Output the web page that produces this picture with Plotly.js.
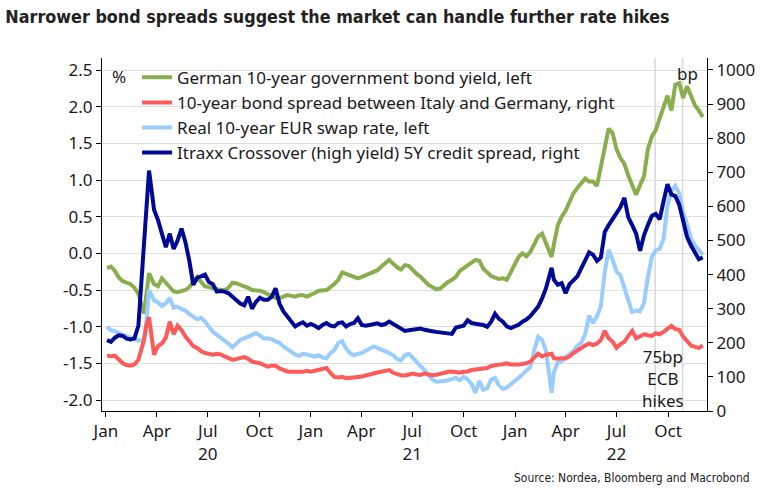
<!DOCTYPE html>
<html><head><meta charset="utf-8">
<script src="https://cdn.plot.ly/plotly-3.0.1.min.js"></script>
<style>html,body{margin:0;padding:0;background:#fff}#chart{width:764px;height:491px}</style>
</head><body><div id="chart"></div>
<script>
const dates = [
'2020-01-03','2020-01-10','2020-01-17','2020-01-24','2020-01-31','2020-02-07','2020-02-14','2020-02-21','2020-02-28','2020-03-09',
'2020-03-13','2020-03-18','2020-03-27','2020-04-03','2020-04-10','2020-04-17','2020-04-24','2020-05-01','2020-05-08','2020-05-15',
'2020-05-22','2020-05-29','2020-06-05','2020-06-12','2020-06-19','2020-06-26','2020-07-03','2020-07-10','2020-07-17','2020-07-24',
'2020-07-31','2020-08-07','2020-08-14','2020-08-21','2020-08-28','2020-09-04','2020-09-11','2020-09-18','2020-09-25','2020-10-02',
'2020-10-09','2020-10-16','2020-10-23','2020-10-30','2020-11-06','2020-11-13','2020-11-20','2020-11-27','2020-12-04','2020-12-11',
'2020-12-18','2020-12-25','2021-01-01','2021-01-08','2021-01-15','2021-01-22','2021-01-29','2021-02-05','2021-02-12','2021-02-19',
'2021-02-26','2021-03-05','2021-03-12','2021-03-19','2021-03-26','2021-04-02','2021-04-09','2021-04-16','2021-04-23','2021-04-30',
'2021-05-07','2021-05-14','2021-05-21','2021-05-28','2021-06-04','2021-06-11','2021-06-18','2021-06-25','2021-07-02','2021-07-09',
'2021-07-16','2021-07-23','2021-07-30','2021-08-06','2021-08-13','2021-08-20','2021-08-27','2021-09-03','2021-09-10','2021-09-17',
'2021-09-24','2021-10-01','2021-10-08','2021-10-15','2021-10-22','2021-10-29','2021-11-05','2021-11-12','2021-11-19','2021-11-26',
'2021-12-03','2021-12-10','2021-12-17','2021-12-24','2021-12-31','2022-01-07','2022-01-14','2022-01-21','2022-01-28','2022-02-04',
'2022-02-11','2022-02-18','2022-02-25','2022-03-07','2022-03-11','2022-03-18','2022-03-25','2022-04-01','2022-04-08','2022-04-15',
'2022-04-22','2022-04-29','2022-05-06','2022-05-13','2022-05-20','2022-05-27','2022-06-03','2022-06-10','2022-06-17','2022-06-24',
'2022-07-01','2022-07-08','2022-07-15','2022-07-22','2022-07-29','2022-08-05','2022-08-12','2022-08-19','2022-08-26','2022-09-02',
'2022-09-09','2022-09-16','2022-09-23','2022-09-30','2022-10-07','2022-10-14','2022-10-21','2022-10-28','2022-11-04','2022-11-11',
'2022-11-18','2022-11-25','2022-12-02'];

// German 10-year government bond yield, % (left axis)
const germanYield = [
-0.20,-0.18,-0.24,-0.33,-0.38,-0.40,-0.42,-0.47,-0.55,-0.82,
-0.55,-0.27,-0.42,-0.45,-0.34,-0.40,-0.45,-0.52,-0.53,-0.52,
-0.50,-0.46,-0.38,-0.32,-0.39,-0.45,-0.46,-0.48,-0.49,-0.50,
-0.50,-0.47,-0.40,-0.41,-0.43,-0.44,-0.47,-0.50,-0.50,-0.51,
-0.53,-0.56,-0.59,-0.61,-0.61,-0.59,-0.57,-0.58,-0.59,-0.57,
-0.57,-0.59,-0.57,-0.54,-0.51,-0.50,-0.50,-0.46,-0.42,-0.36,
-0.26,-0.28,-0.30,-0.33,-0.34,-0.32,-0.30,-0.27,-0.25,-0.23,
-0.18,-0.14,-0.09,-0.14,-0.19,-0.22,-0.16,-0.17,-0.23,-0.28,
-0.32,-0.38,-0.43,-0.46,-0.49,-0.48,-0.43,-0.39,-0.36,-0.32,
-0.24,-0.20,-0.16,-0.13,-0.09,-0.10,-0.21,-0.26,-0.31,-0.33,
-0.35,-0.34,-0.36,-0.26,-0.16,-0.05,0.00,-0.04,0.02,0.14,
0.23,0.27,0.14,-0.05,0.12,0.38,0.50,0.58,0.70,0.82,
0.89,0.95,1.02,0.98,0.98,0.92,1.18,1.45,1.70,1.64,
1.42,1.30,1.22,1.06,0.91,0.80,0.93,1.05,1.42,1.59,
1.68,1.85,2.00,2.15,1.95,2.30,2.32,2.12,2.28,2.15,
2.02,1.95,1.86];

// 10-year bond spread between Italy and Germany, bp (right axis)
const italySpread = [
163,160,162,150,140,135,133,137,150,208,
250,275,165,190,198,215,262,225,250,237,
218,205,190,185,175,170,168,165,168,166,
160,155,150,152,155,158,153,145,142,140,
135,130,133,133,125,120,116,115,115,116,
115,118,115,118,120,122,126,112,100,98,
100,96,98,100,100,101,105,107,110,113,
115,118,120,112,107,105,104,106,110,107,
106,110,108,105,106,110,113,115,116,114,
112,115,116,120,121,122,124,126,132,135,
136,137,140,136,135,136,138,140,145,155,
168,160,165,168,155,153,155,154,160,170,
178,187,192,198,193,198,208,235,213,203,
185,196,203,220,235,213,218,225,222,220,
228,225,232,240,250,240,238,218,203,192,
188,185,192];

// Real 10-year EUR swap rate, % (left axis)
const realSwap = [
-1.00,-1.05,-1.06,-1.09,-1.11,-1.13,-1.15,-1.17,-1.19,-1.18,
-0.95,-0.50,-0.64,-0.67,-0.72,-0.68,-0.61,-0.74,-0.73,-0.76,
-0.78,-0.83,-0.87,-0.90,-0.88,-0.93,-1.00,-1.07,-1.11,-1.15,
-1.18,-1.23,-1.28,-1.22,-1.18,-1.16,-1.14,-1.12,-1.09,-1.12,
-1.16,-1.16,-1.17,-1.20,-1.22,-1.27,-1.31,-1.34,-1.38,-1.40,
-1.37,-1.38,-1.40,-1.41,-1.39,-1.42,-1.43,-1.36,-1.32,-1.22,
-1.20,-1.30,-1.36,-1.39,-1.37,-1.36,-1.33,-1.30,-1.27,-1.29,
-1.31,-1.33,-1.36,-1.39,-1.44,-1.46,-1.39,-1.37,-1.42,-1.48,
-1.54,-1.59,-1.66,-1.72,-1.75,-1.75,-1.74,-1.73,-1.72,-1.70,
-1.73,-1.68,-1.72,-1.78,-1.90,-1.74,-1.86,-1.84,-1.72,-1.70,
-1.80,-1.85,-1.83,-1.79,-1.75,-1.70,-1.65,-1.60,-1.55,-1.32,
-1.14,-1.18,-1.33,-1.90,-1.62,-1.49,-1.47,-1.41,-1.38,-1.33,
-1.26,-1.22,-1.10,-0.85,-0.95,-0.86,-0.72,-0.25,0.05,-0.09,
-0.25,-0.30,-0.45,-0.64,-0.80,-0.78,-0.79,-0.68,-0.32,-0.05,
0.04,0.06,0.20,0.65,0.85,0.92,0.82,0.55,0.40,0.20,
0.11,0.04,-0.02];

// Itraxx Crossover (high yield) 5Y credit spread, bp (right axis)
const itraxx = [
208,203,215,222,220,212,210,213,250,480,
570,705,590,560,520,480,520,475,500,535,
495,440,370,390,395,400,378,372,350,352,
350,345,335,325,315,310,335,300,320,332,
326,326,335,360,315,292,276,262,248,255,
260,250,255,250,243,252,258,250,248,258,
260,248,255,258,272,252,250,252,255,257,
252,255,262,255,247,240,235,237,238,240,
242,238,237,234,232,230,229,228,226,245,
247,250,266,258,256,254,252,247,262,285,
270,262,248,243,247,253,262,268,278,290,
306,330,360,420,385,370,375,345,372,383,
395,418,443,465,458,440,450,525,545,562,
578,598,625,568,545,520,470,515,545,572,
578,562,615,665,635,630,605,555,510,485,
462,445,450];

const seriesNames = [
  'German 10-year government bond yield, left',
  '10-year bond spread between Italy and Germany, right',
  'Real 10-year EUR swap rate, left',
  'Itraxx Crossover (high yield) 5Y credit spread, right'
];
const seriesColors = ['#8aae4d', '#ff5a5a', '#99ccff', '#000a96'];

const tickDates = ['2020-01-01','2020-04-01','2020-07-01','2020-10-01','2021-01-01','2021-04-01','2021-07-01','2021-10-01','2022-01-01','2022-04-01','2022-07-01','2022-10-01'];
const tickLabels = ['Jan','Apr','Jul<br>20','Oct','Jan','Apr','Jul<br>21','Oct','Jan','Apr','Jul<br>22','Oct'];
const leftTicks = [-2.0,-1.5,-1.0,-0.5,0.0,0.5,1.0,1.5,2.0,2.5];
const leftTickText = ['-2.0','-1.5','-1.0','-0.5','0.0','0.5','1.0','1.5','2.0','2.5'];
const rightTicks = [0,100,200,300,400,500,600,700,800,900,1000];
const hikeDates = ['2022-09-08','2022-10-27'];

const FONT = 'Noto Sans, Open Sans, sans-serif';
const NARROW = 'DejaVu Sans Condensed, sans-serif';

const mk = (y, i, axis) => ({
  type: 'scatter', mode: 'lines', x: dates, y: y, name: seriesNames[i], yaxis: axis,
  line: {color: seriesColors[i], width: 4}
});
const traces = [
  mk(germanYield, 0, 'y'),
  mk(italySpread, 1, 'y2'),
  mk(realSwap, 2, 'y'),
  mk(itraxx, 3, 'y2')
];

const layout = {
  width: 764, height: 491,
  margin: {l: 102, r: 57, t: 58, b: 80},
  paper_bgcolor: '#fff', plot_bgcolor: '#fff',
  font: {family: FONT, size: 17, color: '#1a1a1a'},
  title: {text: 'Narrower bond spreads suggest the market can handle further rate hikes',
    font: {family: NARROW, size: 17.8, weight: 'bold', color: '#222'},
    xref: 'container', yref: 'container', x: 0.007, xanchor: 'left', y: 0.965, yanchor: 'middle'},
  showlegend: true,
  legend: {x: 0.058, y: 0.995, xanchor: 'left', yanchor: 'top', bgcolor: 'rgba(0,0,0,0)',
    font: {family: FONT, size: 17, color: '#1a1a1a'}, traceorder: 'normal'},
  xaxis: {type: 'date', range: ['2019-12-25', '2022-12-09 14:00'],
    tickmode: 'array', tickvals: tickDates, ticktext: tickLabels,
    ticks: 'outside', ticklen: 5, tickcolor: '#000', showline: true, linecolor: '#000', linewidth: 1,
    showgrid: false, zeroline: false, tickfont: {family: FONT, size: 17, color: '#1a1a1a'}},
  yaxis: {range: [-2.15, 2.664], tickmode: 'array', tickvals: leftTicks, ticktext: leftTickText,
    ticks: 'outside', ticklen: 5, tickcolor: '#000', showline: true, linecolor: '#000', linewidth: 1,
    showgrid: true, gridcolor: '#dedede', gridwidth: 1, zeroline: false,
    tickfont: {family: FONT, size: 17, color: '#1a1a1a'}},
  yaxis2: {range: [0, 1035], overlaying: 'y', side: 'right', tickmode: 'array', tickvals: rightTicks,
    ticks: 'outside', ticklen: 5, tickcolor: '#000', showline: true, linecolor: '#000', linewidth: 1,
    showgrid: false, zeroline: false, tickfont: {family: FONT, size: 17, color: '#1a1a1a'}},
  shapes: hikeDates.map(d => ({type: 'line', xref: 'x', yref: 'paper', x0: d, x1: d, y0: 0, y1: 1,
    line: {color: '#d8d8d8', width: 1.5}, layer: 'below'})),
  annotations: [
    {text: '%', xref: 'paper', yref: 'paper', x: 0.028, y: 0.947, showarrow: false,
      xanchor: 'center', yanchor: 'middle', font: {family: FONT, size: 17, color: '#1a1a1a'}},
    {text: 'bp', xref: 'paper', yref: 'paper', x: 0.967, y: 0.957, showarrow: false,
      xanchor: 'center', yanchor: 'middle', font: {family: FONT, size: 17, color: '#1a1a1a'}},
    {text: '75bp<br>ECB<br>hikes', xref: 'paper', yref: 'paper', x: 0.927, y: 0.093, showarrow: false,
      xanchor: 'center', yanchor: 'middle', align: 'center', font: {family: FONT, size: 17, color: '#1a1a1a'}},
    {text: 'Source: Nordea, Bloomberg and Macrobond', xref: 'paper', yref: 'paper', x: 1.074, y: -0.19,
      showarrow: false, xanchor: 'right', yanchor: 'middle', font: {family: NARROW, size: 12, color: '#222'}}
  ]
};

Plotly.newPlot('chart', traces, layout, {staticPlot: true, displayModeBar: false});
</script>
</body></html>
